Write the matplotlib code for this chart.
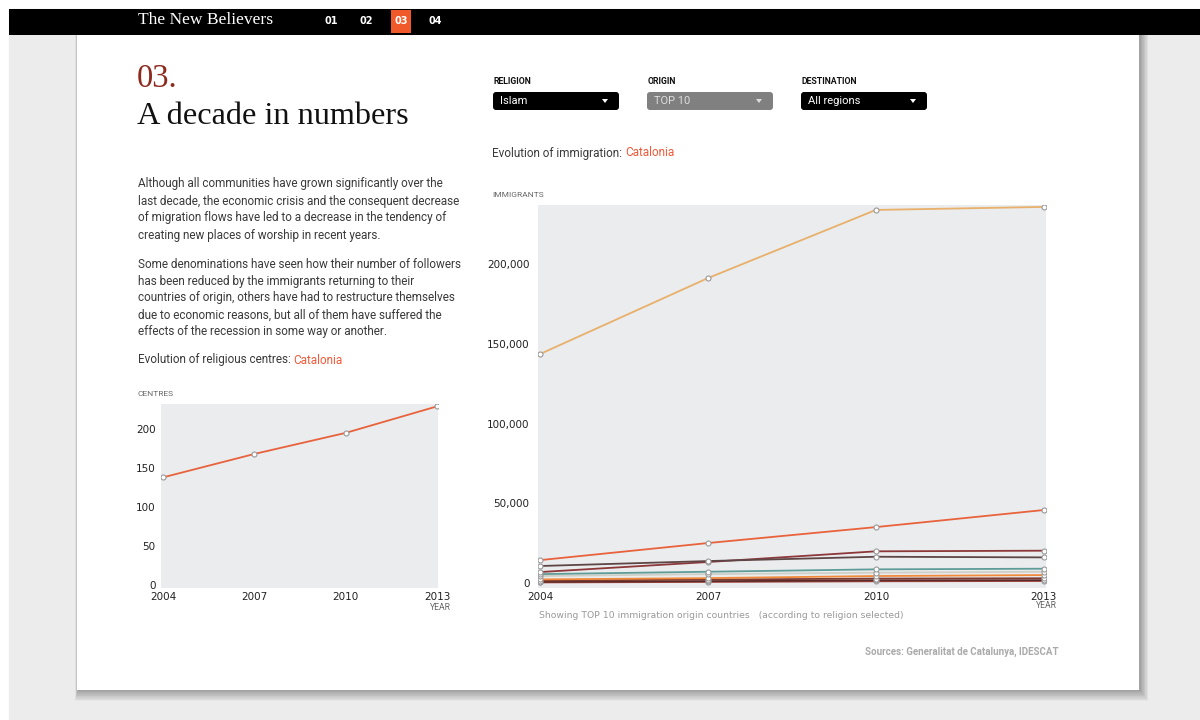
import matplotlib.pyplot as plt
from matplotlib.patches import Rectangle, FancyBboxPatch, Polygon

# data
years = [2004, 2007, 2010, 2013]
centres = [138, 168, 195, 229]

immigrants = [
    [143700, 191300, 234000, 235900],
    [14400, 25100, 35100, 45800],
    [10700, 13800, 16500, 16100],
    [6900, 13200, 19900, 20300],
    [5600, 7100, 8600, 9000],
    [4400, 5600, 6500, 7100],
    [2300, 3100, 4400, 5000],
    [1500, 2200, 2800, 3000],
    [800, 1200, 1700, 1800],
    [400, 700, 1100, 1300],
]
series_colors = ['#e8b06a', '#e8623c', '#5e4646', '#8c3838', '#5e9c98',
                 '#cfcfc8', '#f08a3a', '#7c3a30', '#5a2a2a', '#a3463c']

centres_ticks = [0, 50, 100, 150, 200]
imm_ticks = [0, 50000, 100000, 150000, 200000]

W, H = 1200, 720
fig = plt.figure(figsize=(12, 7.2), dpi=100)
fig.patch.set_facecolor('white')

# page layer in pixel coordinates
page = fig.add_axes([0, 0, 1, 1], zorder=0)
page.set_xlim(0, W)
page.set_ylim(H, 0)
page.axis('off')

page.add_patch(Rectangle((9, 9), W - 9, H - 9, color='#ececec'))
# soft card shadow
for d in range(1, 15):
    page.add_patch(Rectangle((77 - d * 0.2 + 1, 35), 1062 + d * 0.8,
                             655 + d * 0.8, color='black', alpha=0.025, lw=0))
page.add_patch(Rectangle((77, 35), 1062, 655, color='white', lw=0))
# top bar
page.add_patch(Rectangle((9, 9), W - 9, 26, color='black', lw=0))
page.add_patch(Rectangle((391, 10), 20, 23, color='#f05a2a', lw=0))

page.text(138, 20, 'The New Believers', color='white', fontsize=12.6,
          family='Liberation Serif', va='center')
for x, s in zip([331, 366, 401, 435], ['01', '02', '03', '04']):
    page.text(x, 21, s, color='white', fontsize=7, weight='bold',
              ha='center', va='center')

page.text(137, 79, '03.', color='#8c2a1e', fontsize=23.5,
          family='Liberation Serif', va='center')
page.text(137, 117, 'A decade in numbers', color='#111111', fontsize=23.2,
          family='Liberation Serif', va='center')

body_font = 'Roboto'
para1 = ['Although all communities have grown significantly over the',
         'last decade, the economic crisis and the consequent decrease',
         'of migration flows have led to a decrease in the tendency of',
         'creating new places of worship in recent years.']
para2 = ['Some denominations have seen how their number of followers',
         'has been reduced by the immigrants returning to their',
         'countries of origin, others have had to restructure themselves',
         'due to economic reasons, but all of them have suffered the',
         'effects of the recession in some way or another.']
for i, line in enumerate(para1):
    page.text(138, 184 + 17 * i, line, color='#3a3a3a', fontsize=8.5,
              family=body_font, va='center')
for i, line in enumerate(para2):
    page.text(138, 264 + 17 * i, line, color='#3a3a3a', fontsize=8.5,
              family=body_font, va='center')

t = page.text(138, 360, 'Evolution of religious centres: ', color='#3a3a3a',
              fontsize=8.5, family=body_font, va='center')
page.annotate('Catalonia', xycoords=t, xy=(1, 0.5), va='center',
              color='#f05a3a', fontsize=8.5, family=body_font)

t = page.text(492, 153, 'Evolution of immigration: ', color='#3a3a3a',
              fontsize=8.5, family=body_font, va='center')
page.annotate('Catalonia', xycoords=t, xy=(1, 0.5), va='center',
              color='#f05a3a', fontsize=8.5, family=body_font)

# dropdown selectors
drops = [(492, 'RELIGION', 'Islam', 'black', 'white'),
         (646, 'ORIGIN', 'TOP 10', '#808080', '#dddddd'),
         (800, 'DESTINATION', 'All regions', 'black', 'white')]
for x, lab, val, bg, fg in drops:
    page.text(x + 2, 81, lab, fontsize=6.3, weight='bold', color='#111111',
              family=body_font, va='center')
    page.add_patch(FancyBboxPatch((x + 2, 93), 124, 16,
                                  boxstyle='round,pad=1,rounding_size=3',
                                  fc=bg, ec='none'))
    page.text(x + 8, 101, val, fontsize=8, color=fg, family=body_font,
              va='center')
    tx = x + 113
    page.add_patch(Polygon([(tx - 3, 99), (tx + 3, 99), (tx, 103)],
                           closed=True, fc=fg, ec='none'))

page.text(137, 394, 'CENTRES', fontsize=6, color='#666666', family=body_font,
          va='center')
page.text(492, 195, 'IMMIGRANTS', fontsize=6, color='#666666',
          family=body_font, va='center')
page.text(451, 607, 'YEAR', fontsize=6.2, color='#666666', family=body_font,
          ha='right', va='center')
page.text(1057, 606, 'YEAR', fontsize=6.2, color='#666666', family=body_font,
          ha='right', va='center')
page.text(539, 615, 'Showing TOP 10 immigration origin countries   '
          '(according to religion selected)', fontsize=6.7, color='#999999',
          va='center')
page.text(1059, 652, 'Sources: Generalitat de Catalunya, IDESCAT',
          fontsize=7, color='#aaaaaa', weight='bold', family=body_font,
          ha='right', va='center')


def px_axes(x0, y0, x1, y1):
    return fig.add_axes([x0 / W, 1 - y1 / H, (x1 - x0) / W, (y1 - y0) / H],
                        zorder=2)


def style(ax, ypad):
    ax.set_facecolor('#ebecee')
    for s in ax.spines.values():
        s.set_visible(False)
    ax.set_xticks(years)
    ax.tick_params(length=0, labelsize=7.5, labelcolor='#222222')
    ax.tick_params(axis='x', pad=3)
    ax.tick_params(axis='y', pad=ypad)


marker_kw = dict(marker='o', markersize=3.6, markerfacecolor='white',
                 markeredgecolor='#999999', markeredgewidth=0.8)

# religious centres
ax1 = px_axes(161, 404, 438, 588)
style(ax1, 4)
ax1.plot(years, centres, color='#e8623c', lw=1.3, **marker_kw)
ax1.set_xlim(2003.93, 2013.03)
ax1.set_ylim(-3.8, 232)
ax1.set_yticks(centres_ticks)

# immigrants
ax2 = px_axes(538, 205, 1046, 588)
style(ax2, 6)
for vals, c in zip(immigrants[::-1], series_colors[::-1]):
    ax2.plot(years, vals, color=c, lw=1.3, **marker_kw)
ax2.set_xlim(2003.96, 2013.04)
ax2.set_ylim(-3100, 237100)
ax2.set_yticks(imm_ticks)
ax2.set_yticklabels([f'{v:,}' for v in imm_ticks])

fig.savefig('out.png', dpi=100)
